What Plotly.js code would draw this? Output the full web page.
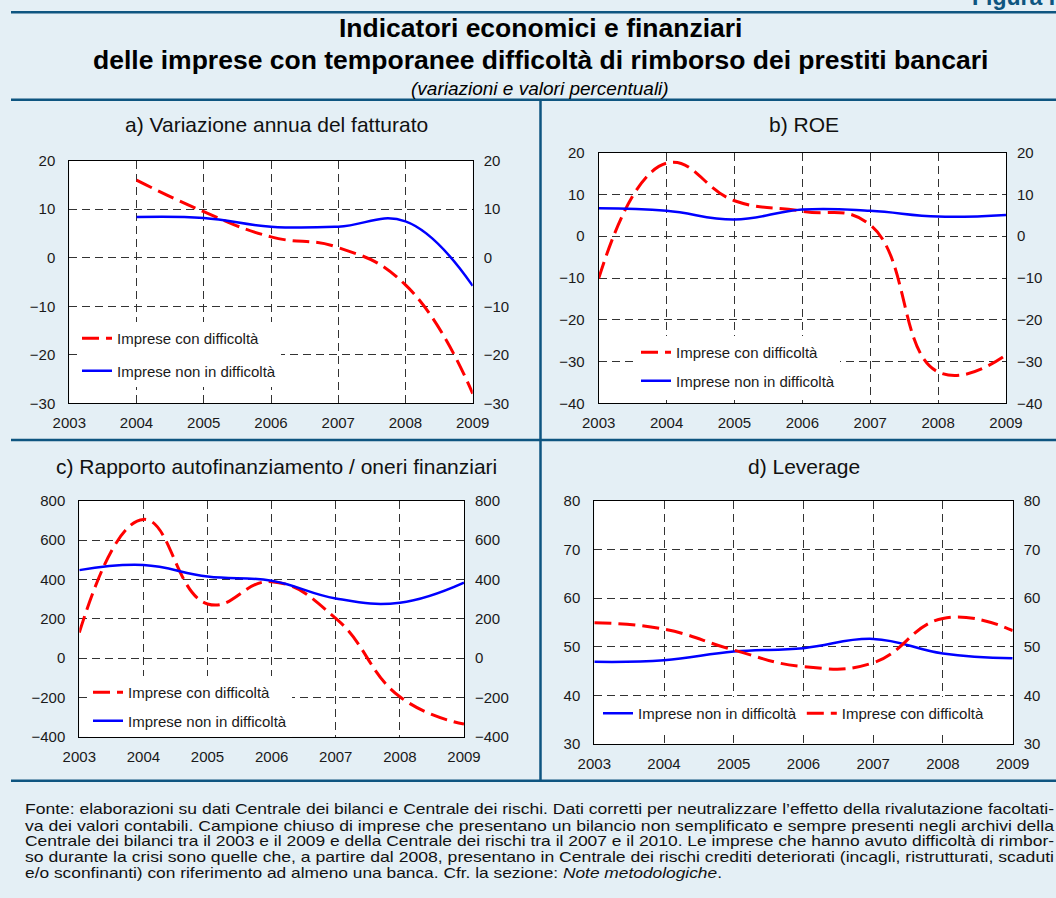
<!DOCTYPE html>
<html>
<head>
<meta charset="utf-8">
<script src="https://cdn.plot.ly/plotly-3.0.1.min.js"></script>
<style>
  html, body { margin: 0; padding: 0; background: #e4eff5; }
  #chart { width: 1056px; height: 898px; }
</style>
</head>
<body>
<div id="chart"></div>
<script>
// ---- Data ----
const years = [2003, 2004, 2005, 2006, 2007, 2008, 2009];
const yearsA = [2004, 2005, 2006, 2007, 2008, 2009];

// a) Variazione annua del fatturato
const aCon = [16.0, 9.5, 4.3, 2.1, -5.6, -28.0];
const aNon = [8.4, 8.2, 6.4, 6.4, 7.5, -5.8];
// b) ROE
const bCon = [-10.1, 17.5, 8.5, 6.0, 2.7, -32.5, -28.4];
const bNon = [6.7, 6.1, 4.0, 6.4, 6.1, 4.7, 5.1];
// c) Rapporto autofinanziamento / oneri finanziari
const cCon = [129, 705, 275, 388, 202, -197, -336];
const cNon = [447, 473, 414, 393, 303, 281, 383];
// d) Leverage
const dCon = [54.9, 53.6, 49.3, 45.9, 46.7, 55.8, 53.3];
const dNon = [46.9, 47.2, 49.0, 49.7, 51.6, 48.6, 47.6];

const ticksA = [-30, -20, -10, 0, 10, 20];
const ticksB = [-40, -30, -20, -10, 0, 10, 20];
const ticksC = [-400, -200, 0, 200, 400, 600, 800];
const ticksD = [30, 40, 50, 60, 70, 80];

const nameCon = 'Imprese con difficoltà';
const nameNon = 'Imprese non in difficoltà';

const panelTitles = ['a) Variazione annua del fatturato', 'b) ROE',
  'c) Rapporto autofinanziamento / oneri finanziari', 'd) Leverage'];
const mainTitle1 = 'Indicatori economici e finanziari';
const mainTitle2 = 'delle imprese con temporanee difficoltà di rimborso dei prestiti bancari';
const subTitle = '(variazioni e valori percentuali)';
const figLabel = 'Figura I';
const noteLines = [
  'Fonte: elaborazioni su dati Centrale dei bilanci e Centrale dei rischi. Dati corretti per neutralizzare l’effetto della rivalutazione facoltati-',
  'va dei valori contabili. Campione chiuso di imprese che presentano un bilancio non semplificato e sempre presenti negli archivi della',
  'Centrale dei bilanci tra il 2003 e il 2009 e della Centrale dei rischi tra il 2007 e il 2010. Le imprese che hanno avuto difficoltà di rimbor-',
  'so durante la crisi sono quelle che, a partire dal 2008, presentano in Centrale dei rischi crediti deteriorati (incagli, ristrutturati, scaduti',
  'e/o sconfinanti) con riferimento ad almeno una banca. Cfr. la sezione: <i>Note metodologiche</i>.'
];

// ---- Layout helpers ----
const W = 1056, H = 898;
const FONT = 'Liberation Sans, Arial, sans-serif';
const RED = '#ff0000', BLUE = '#0000ff', DARK = '#0e5580';
const px = x => x / W;
const py = y => 1 - y / H;

const panels = [
  {l: 69.3, r: 472.7, t: 160.7, b: 403.3, range: [-30, 20], ticks: ticksA},
  {l: 598.7, r: 1006, t: 152.7, b: 403.3, range: [-40, 20], ticks: ticksB},
  {l: 79.3, r: 464, t: 500.7, b: 736.7, range: [-400, 800], ticks: ticksC},
  {l: 594.3, r: 1012.7, t: 500.7, b: 744, range: [30, 80], ticks: ticksD}
];

const layout = {
  width: W, height: H, autosize: false,
  margin: {l: 0, r: 0, t: 0, b: 0, pad: 0},
  paper_bgcolor: '#e4eff5', plot_bgcolor: '#ffffff',
  font: {family: FONT, size: 15, color: '#1a1a1a'},
  showlegend: true, hovermode: false,
  annotations: [], shapes: []
};

panels.forEach((p, i) => {
  const n = i + 1;
  const xa = 'xaxis' + (n === 1 ? '' : n);
  const ya = 'yaxis' + (n === 1 ? '' : n);
  const yr = 'yaxis' + (n + 4);
  const xid = 'x' + (n === 1 ? '' : n);
  const yid = 'y' + (n === 1 ? '' : n);
  layout[xa] = {
    domain: [px(p.l), px(p.r)], anchor: yid, range: [2003, 2009],
    tickvals: years, ticks: '', ticklabelstandoff: 6,
    showgrid: true, gridcolor: '#333333', gridwidth: 1, griddash: '8px,5px',
    zeroline: false, showline: true, mirror: true, linecolor: '#000', linewidth: 1,
    tickfont: {size: 15, color: '#1a1a1a'}, fixedrange: true
  };
  layout[ya] = {
    domain: [py(p.b), py(p.t)], anchor: xid, range: p.range,
    tickvals: p.ticks, ticks: '', ticklabelstandoff: 10,
    showgrid: true, gridcolor: '#333333', gridwidth: 1, griddash: '8px,5px',
    zeroline: false, showline: true, mirror: true, linecolor: '#000', linewidth: 1,
    tickfont: {size: 15, color: '#1a1a1a'}, fixedrange: true
  };
  layout[yr] = {
    overlaying: yid, anchor: xid, side: 'right', range: p.range,
    tickvals: p.ticks, ticks: '', ticklabelstandoff: 10,
    showgrid: false, zeroline: false, showline: false,
    tickfont: {size: 15, color: '#1a1a1a'}, fixedrange: true
  };
  layout.annotations.push({
    xref: 'paper', yref: 'paper', x: px(i === 0 || i === 2 ? 276 : 804), y: py(i < 2 ? 125 : 466),
    xanchor: 'center', yanchor: 'middle', showarrow: false,
    text: panelTitles[i], font: {size: 21, color: '#111'}
  });
});

// Legends
const legBase = {bgcolor: '#ffffff', borderwidth: 0, font: {size: 15, color: '#1a1a1a'},
  xanchor: 'left', yanchor: 'top', traceorder: 'grouped', itemclick: false, itemdoubleclick: false};
layout.legend = Object.assign({}, legBase, {x: px(77), y: py(322), tracegroupgap: 10});
layout.legend2 = Object.assign({}, legBase, {x: px(636), y: py(336), tracegroupgap: 6});
layout.legend3 = Object.assign({}, legBase, {x: px(88), y: py(676), tracegroupgap: 6});
layout.legend4 = Object.assign({}, legBase, {x: px(598), y: py(697), orientation: 'h', traceorder: 'normal'});

// Titles
layout.annotations.push(
  {xref: 'paper', yref: 'paper', x: px(540), y: py(28), xanchor: 'center', yanchor: 'middle', showarrow: false,
   text: '<b>' + mainTitle1 + '</b>', font: {size: 26.5, color: '#000'}},
  {xref: 'paper', yref: 'paper', x: px(540), y: py(60), xanchor: 'center', yanchor: 'middle', showarrow: false,
   text: '<b>' + mainTitle2 + '</b>', font: {size: 26.5, color: '#000'}},
  {xref: 'paper', yref: 'paper', x: px(540), y: py(88), xanchor: 'center', yanchor: 'middle', showarrow: false,
   text: '<i>' + subTitle + '</i>', font: {size: 19, color: '#000'}},
  {xref: 'paper', yref: 'paper', x: px(970), y: py(12), xanchor: 'left', yanchor: 'bottom', showarrow: false,
   text: '<b>' + figLabel + '</b>', font: {size: 23, color: DARK}}
);
const noteY = [808.3, 825, 840.7, 856.7, 872.3];
const noteWidth = [1029, 1029, 1029, 1029, 697];
noteLines.forEach((t, i) => {
  layout.annotations.push({xref: 'paper', yref: 'paper', x: px(24), y: py(noteY[i]),
    xanchor: 'left', yanchor: 'middle', align: 'left', showarrow: false, borderpad: 0,
    text: t, font: {size: 15, color: '#111'}});
});

// Separator lines
const sep = (x0, y0, x1, y1) => ({type: 'line', xref: 'paper', yref: 'paper',
  x0: px(x0), y0: py(y0), x1: px(x1), y1: py(y1), line: {color: DARK, width: 2.5}, layer: 'above'});
layout.shapes.push(sep(11, 12.2, 1056, 12.2), sep(11, 99.8, 1056, 99.8),
  sep(11, 440, 1056, 440), sep(11, 780.7, 1056, 780.7), sep(540.5, 99.8, 540.5, 780.7));

// Traces
const conLine = {color: RED, width: 3, dash: '17px,7px', shape: 'spline', smoothing: 1.3};
const nonLine = {color: BLUE, width: 2.5, shape: 'spline', smoothing: 1.2};
const tr = (x, y, name, line, n, legend, group) => ({
  type: 'scatter', mode: 'lines', x: x, y: y, name: name, line: line,
  xaxis: 'x' + (n === 1 ? '' : n), yaxis: 'y' + (n === 1 ? '' : n),
  legend: legend, legendgroup: group, hoverinfo: 'skip'
});
const data = [
  tr(yearsA, aCon, nameCon, conLine, 1, 'legend', 'a1'),
  tr(yearsA, aNon, nameNon, nonLine, 1, 'legend', 'a2'),
  tr(years, bCon, nameCon, conLine, 2, 'legend2', 'b1'),
  tr(years, bNon, nameNon, nonLine, 2, 'legend2', 'b2'),
  tr(years, cCon, nameCon, conLine, 3, 'legend3', 'c1'),
  tr(years, cNon, nameNon, nonLine, 3, 'legend3', 'c2'),
  tr(years, dNon, nameNon, nonLine, 4, 'legend4', 'd1'),
  tr(years, dCon, nameCon, conLine, 4, 'legend4', 'd2')
];
// empty traces so the right-hand axes get drawn
for (let n = 1; n <= 4; n++) {
  data.push({type: 'scatter', x: [], y: [], xaxis: 'x' + (n === 1 ? '' : n), yaxis: 'y' + (n + 4),
    showlegend: false, hoverinfo: 'skip'});
}

Plotly.newPlot('chart', data, layout, {displayModeBar: false, staticPlot: true}).then(gd => {
  // justify the footnote lines like the original paragraph (wider glyphs, justified edges)
  try {
    const plain = noteLines.map(s => s.replace(/<[^>]+>/g, ''));
    gd.querySelectorAll('.annotation-text').forEach(el => {
      const idx = plain.indexOf(el.textContent);
      if (idx >= 0) {
        el.setAttribute('textLength', String(noteWidth[idx]));
        el.setAttribute('lengthAdjust', 'spacingAndGlyphs');
      }
    });
  } catch (e) {}
});
</script>
</body>
</html>
